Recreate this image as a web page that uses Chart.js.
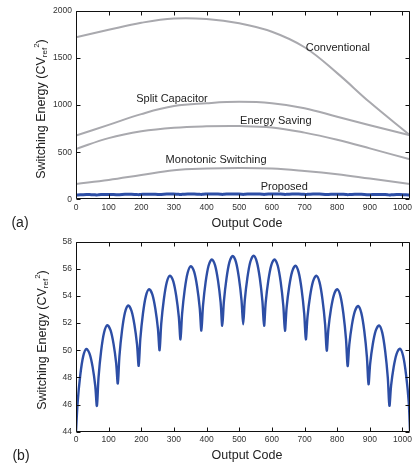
<!DOCTYPE html>
<html>
<head>
<meta charset="utf-8">
<script src="https://cdn.jsdelivr.net/npm/chart.js@4.4.0/dist/chart.umd.min.js"></script>
<style>
  body { margin: 0; background: #fff; font-family: "Liberation Sans", Arial, sans-serif; }
  #wrap { position: relative; width: 419px; height: 465px; }
  canvas { position: absolute; left: 0; }
  .lab { position: absolute; transform: translate(-50%, -50%); white-space: nowrap; color: #222; line-height: 1; }
  .ylab { transform: translate(-50%, -50%) rotate(-90deg); font-size: 12.5px; }
  .xlab { font-size: 12.5px; }
  .tag { font-size: 14px; }
  sub, sup { font-size: 8px; line-height: 0; }
  sub { vertical-align: -2px; }
  sup { vertical-align: 6px; }
</style>
</head>
<body>
<div id="wrap">
  <canvas id="chartA" width="419" height="232" style="top:0"></canvas>
  <canvas id="chartB" width="419" height="233" style="top:232px"></canvas>
  <div class="lab ylab" style="left:41px;top:109px">Switching Energy (CV<sub>ref</sub><sup>2</sup>)</div>
  <div class="lab ylab" style="left:42px;top:340px">Switching Energy (CV<sub>ref</sub><sup>2</sup>)</div>
  <div class="lab xlab" style="left:247px;top:223px">Output Code</div>
  <div class="lab xlab" style="left:247px;top:455px">Output Code</div>
  <div class="lab tag" style="left:20px;top:222px">(a)</div>
  <div class="lab tag" style="left:21px;top:455px">(b)</div>
</div>
<script>
// (a) curves
const codesA = [0, 100, 200, 300, 400, 500, 600, 700, 800, 900, 1023];
const conventional = [1720, 1800, 1875, 1920, 1915, 1870, 1780, 1615, 1340, 1030, 680];
const splitCap = [677, 790, 905, 990, 1020, 1035, 1020, 968, 876, 787, 680];
const energySaving = [535, 650, 722, 760, 775, 778, 763, 708, 632, 541, 424];
const monotonic = [163, 205, 258, 309, 327, 333, 327, 301, 266, 220, 163];

// proposed scheme (b), also drawn in (a)
const codesB = [
  0, 5, 13, 22, 32, 42, 51, 59,
  64, 69, 77, 86, 96, 106, 115, 123,
  128, 133, 141, 150, 160, 170, 179, 187,
  192, 197, 205, 214, 224, 234, 243, 251,
  256, 261, 269, 278, 288, 298, 307, 315,
  320, 325, 333, 342, 352, 362, 371, 379,
  384, 389, 397, 406, 416, 426, 435, 443,
  448, 453, 461, 470, 480, 490, 499, 507,
  512, 517, 525, 534, 544, 554, 563, 571,
  576, 581, 589, 598, 608, 618, 627, 635,
  640, 645, 653, 662, 672, 682, 691, 699,
  704, 709, 717, 726, 736, 746, 755, 763,
  768, 773, 781, 790, 800, 810, 819, 827,
  832, 837, 845, 854, 864, 874, 883, 891,
  896, 901, 909, 918, 928, 938, 947, 955,
  960, 965, 973, 982, 992, 1002, 1011, 1019,
  1023
];
const proposed = [
  44.0, 46.14, 48.15, 49.55, 50.1, 49.72, 48.76, 47.37,
  45.9, 47.98, 49.95, 51.31, 51.85, 51.46, 50.47, 49.06,
  47.55, 49.56, 51.46, 52.78, 53.3, 52.9, 51.88, 50.41,
  48.85, 50.83, 52.69, 53.99, 54.5, 54.1, 53.06, 51.58,
  50.0, 51.93, 53.74, 55.01, 55.5, 55.08, 54.0, 52.45,
  50.8, 52.69, 54.47, 55.71, 56.2, 55.77, 54.68, 53.11,
  51.45, 53.29, 55.02, 56.23, 56.7, 56.26, 55.13, 53.52,
  51.8, 53.6, 55.3, 56.49, 56.95, 56.5, 55.34, 53.68,
  51.92, 53.69, 55.35, 56.52, 56.97, 56.5, 55.32, 53.61,
  51.8, 53.52, 55.13, 56.26, 56.7, 56.23, 55.02, 53.28,
  51.44, 53.12, 54.7, 55.8, 56.23, 55.74, 54.49, 52.7,
  50.8, 52.45, 54.0, 55.08, 55.5, 55.0, 53.73, 51.91,
  49.97, 51.56, 53.05, 54.09, 54.5, 53.99, 52.69, 50.82,
  48.84, 50.39, 51.85, 52.86, 53.26, 52.74, 51.42, 49.52,
  47.5, 49.02, 50.44, 51.44, 51.83, 51.3, 49.94, 47.98,
  45.91, 47.38, 48.77, 49.74, 50.12, 49.58, 48.19, 46.21,
  44.1
];

// curve names in (a), with anchor point in data units
const curveNames = ["Conventional", "Split Capacitor", "Energy Saving", "Monotonic Switching", "Proposed"];
const nameCodes = [802, 294, 612, 429, 638];
const nameEnergy = [1607, 1067, 836, 418, 134];

const grayCol = "#a9a9ae";
const blueCol = "#2d4ea5";
const tickFont = { family: "Liberation Sans, Arial, sans-serif", size: 8.5 };

function pts(xs, ys) {
    return xs.map((x, i) => ({ x: x, y: ys[i] }));
}

// box round the plot with inward ticks on all sides
const framePlugin = {
    id: "frame",
    afterDatasetsDraw(chart) {
        const { ctx, chartArea: a, scales: { x, y } } = chart;
        const L = Math.round(a.left) + 0.5, R = Math.round(a.right) - 0.5;
        const T = Math.round(a.top) + 0.5, B = Math.round(a.bottom) - 0.5;
        ctx.save();
        ctx.strokeStyle = "#111";
        ctx.lineWidth = 1;
        ctx.beginPath();
        ctx.rect(L, T, R - L, B - T);
        x.ticks.forEach(t => {
            const px = Math.round(x.getPixelForValue(t.value)) + 0.5;
            ctx.moveTo(px, B); ctx.lineTo(px, B - 4);
            ctx.moveTo(px, T); ctx.lineTo(px, T + 4);
        });
        y.ticks.forEach(t => {
            const py = Math.round(y.getPixelForValue(t.value)) + 0.5;
            ctx.moveTo(L, py); ctx.lineTo(L + 4, py);
            ctx.moveTo(R, py); ctx.lineTo(R - 4, py);
        });
        ctx.stroke();
        ctx.restore();
    }
};

const namesPlugin = {
    id: "names",
    afterDatasetsDraw(chart) {
        if (chart.canvas.id !== "chartA") return;
        const { ctx, scales: { x, y } } = chart;
        ctx.save();
        ctx.fillStyle = "#222";
        ctx.font = "11px 'Liberation Sans', Arial, sans-serif";
        ctx.textAlign = "center";
        ctx.textBaseline = "middle";
        curveNames.forEach((n, i) => {
            ctx.fillText(n, x.getPixelForValue(nameCodes[i]), y.getPixelForValue(nameEnergy[i]));
        });
        ctx.restore();
    }
};

function makeScales(yMin, yMax, yStep, xHeight) {
    return {
        x: {
            type: "linear", min: 0, max: 1023,
            grid: { display: false, drawTicks: false },
            border: { display: false },
            ticks: {
                stepSize: 100, includeBounds: false, padding: 3, color: "#333", font: tickFont, maxRotation: 0,
                callback: v => String(v)
            },
            afterFit(s) { s.height = xHeight; }
        },
        y: {
            min: yMin, max: yMax,
            grid: { display: false, drawTicks: false },
            border: { display: false },
            ticks: { stepSize: yStep, padding: 4, color: "#333", font: tickFont, callback: v => String(v) },
            afterFit(s) { s.width = 76; }
        }
    };
}

const commonOpts = {
    responsive: false,
    animation: false,
    plugins: { legend: { display: false }, tooltip: { enabled: false } },
    elements: { point: { radius: 0 } }
};

function grayLine(ys) {
    return { data: pts(codesA, ys), borderColor: grayCol, borderWidth: 2, tension: 0.4, fill: false };
}

new Chart(document.getElementById("chartA"), {
    type: "line",
    data: {
        datasets: [
            grayLine(conventional),
            grayLine(splitCap),
            grayLine(energySaving),
            grayLine(monotonic),
            { data: pts(codesB, proposed), borderColor: blueCol, borderWidth: 3, tension: 0.3, fill: false }
        ]
    },
    options: Object.assign({}, commonOpts, {
        layout: { padding: { top: 11, right: 9, left: 0, bottom: 0 } },
        scales: makeScales(0, 2000, 500, 32.7)
    }),
    plugins: [framePlugin, namesPlugin]
});

new Chart(document.getElementById("chartB"), {
    type: "line",
    data: {
        datasets: [
            { data: pts(codesB, proposed), borderColor: blueCol, borderWidth: 2.4, tension: 0.3, fill: false }
        ]
    },
    options: Object.assign({}, commonOpts, {
        layout: { padding: { top: 9.7, right: 9, left: 0, bottom: 0 } },
        scales: makeScales(44, 58, 2, 33.3)
    }),
    plugins: [framePlugin]
});
</script>
</body>
</html>
